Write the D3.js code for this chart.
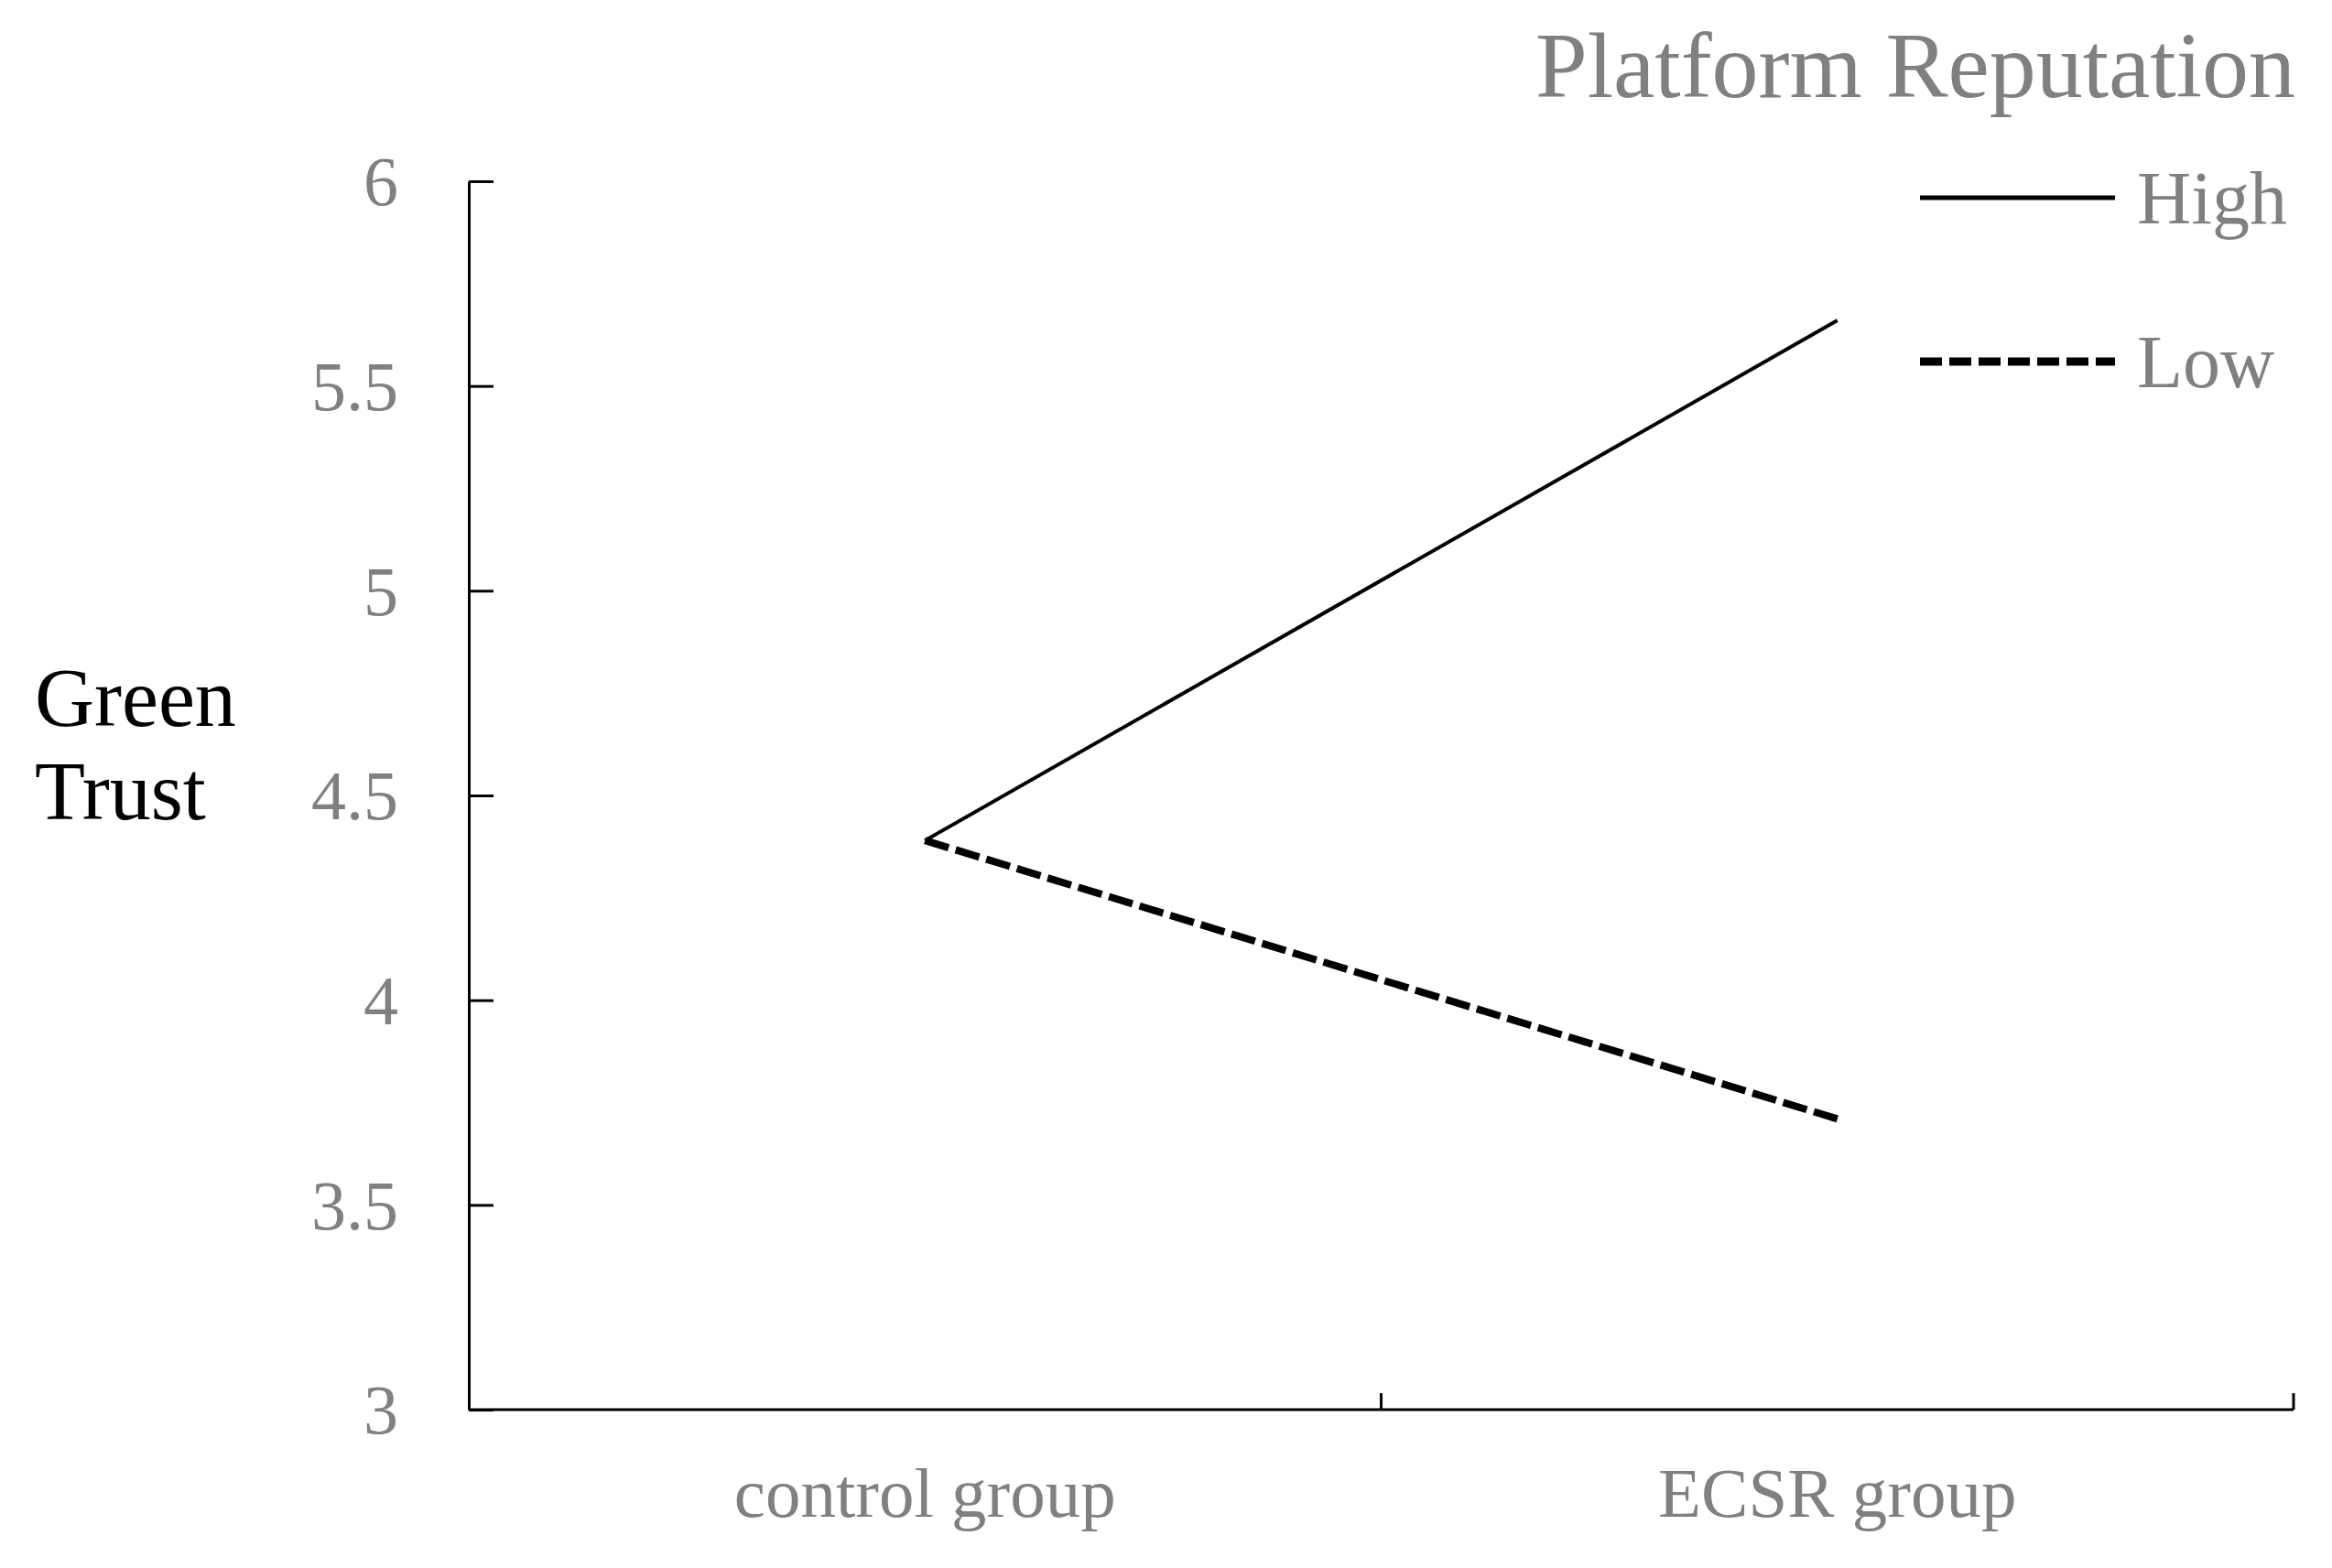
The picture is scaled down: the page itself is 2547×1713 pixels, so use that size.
<!DOCTYPE html>
<html>
<head>
<meta charset="utf-8">
<script src="https://cdn.jsdelivr.net/npm/d3@7"></script>
<style>
  body { margin: 0; background: #fff; }
  text { font-family: "Liberation Serif", "Times New Roman", serif; }
</style>
</head>
<body>
<svg id="chart"></svg>
<script>
// data
const groups = ["control group", "ECSR group"];
const highValues = [4.39, 5.66];
const lowValues = [4.39, 3.71];
const seriesNames = ["High", "Low"];
const yTicks = [3, 3.5, 4, 4.5, 5, 5.5, 6];

const W = 2547, H = 1713;
const margin = { top: 198, right: 42, bottom: 173, left: 512 };

const svg = d3.select("#chart").attr("width", W).attr("height", H);

const x = d3.scaleBand().domain(groups).range([margin.left, W - margin.right]).padding(0);
const y = d3.scaleLinear().domain([3, 6]).range([H - margin.bottom, margin.top]);

// y axis, ticks pointing inward
const yAxis = svg.append("g")
  .attr("transform", `translate(${margin.left},0)`)
  .call(d3.axisLeft(y).tickValues(yTicks).tickFormat(d3.format("")).tickSizeInner(-27).tickSizeOuter(0).tickPadding(77));
yAxis.select(".domain").attr("stroke", "#000").attr("stroke-width", 3);
yAxis.selectAll(".tick line").attr("stroke", "#000").attr("stroke-width", 3);
yAxis.selectAll(".tick text").attr("fill", "#808080").style("font-size", "76px").attr("dy", "0.34em");

// x axis: labels at band centres, ticks at band edges
const xAxis = svg.append("g")
  .attr("transform", `translate(0,${y(3)})`)
  .call(d3.axisBottom(x).tickSize(0).tickPadding(62));
xAxis.select(".domain").remove();
xAxis.selectAll(".tick text").attr("fill", "#808080").style("font-size", "77px");

svg.append("line")
  .attr("x1", margin.left).attr("x2", x.range()[1])
  .attr("y1", y(3)).attr("y2", y(3))
  .attr("stroke", "#000").attr("stroke-width", 3);

svg.selectAll(".xedge")
  .data(groups)
  .join("line")
  .attr("class", "xedge")
  .attr("x1", (d) => x(d) + x.bandwidth())
  .attr("x2", (d) => x(d) + x.bandwidth())
  .attr("y1", y(3))
  .attr("y2", y(3) - 18)
  .attr("stroke", "#000").attr("stroke-width", 3);

// y axis title
const yTitle = svg.append("text").attr("x", 38).attr("y", 793).attr("fill", "#000").style("font-size", "90px");
yTitle.append("tspan").attr("x", 38).text("Green");
yTitle.append("tspan").attr("x", 38).attr("dy", 102).text("Trust");

// lines
const series = [
  { name: seriesNames[0], values: highValues, width: 4, dash: null },
  { name: seriesNames[1], values: lowValues, width: 8, dash: "27,8" },
];
const line = d3.line()
  .x((d, i) => x(groups[i]) + x.bandwidth() / 2)
  .y((d) => y(d));

svg.selectAll(".series")
  .data(series)
  .join("path")
  .attr("class", "series")
  .attr("d", (d) => line(d.values))
  .attr("fill", "none")
  .attr("stroke", "#000")
  .attr("stroke-width", (d) => d.width)
  .attr("stroke-dasharray", (d) => d.dash);

// legend
svg.append("text")
  .attr("x", 2507).attr("y", 106)
  .attr("text-anchor", "end")
  .attr("fill", "#808080")
  .style("font-size", "102px")
  .text("Platform Reputation");

const legend = svg.selectAll(".leg")
  .data(series)
  .join("g")
  .attr("class", "leg")
  .attr("transform", (d, i) => `translate(2097,${216 + i * 179})`);
legend.append("line")
  .attr("x1", 0).attr("x2", 213)
  .attr("stroke", "#000")
  .attr("stroke-width", (d) => d.width + 1)
  .attr("stroke-dasharray", (d) => (d.dash ? "24,8" : null));
legend.append("text")
  .attr("x", 237).attr("y", 28)
  .attr("fill", "#808080")
  .style("font-size", "82px")
  .text((d) => d.name);
</script>
</body>
</html>
